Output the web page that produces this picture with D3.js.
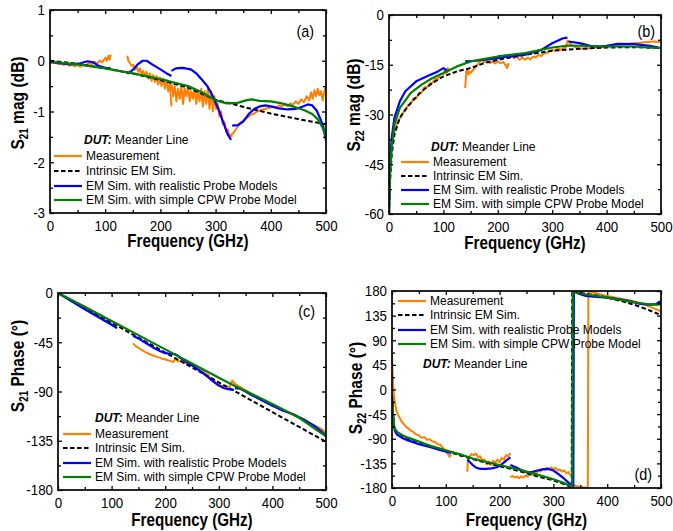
<!DOCTYPE html>
<html>
<head>
<meta charset="utf-8">
<script src="https://cdn.jsdelivr.net/npm/d3@7"></script>
<style>
  body { margin: 0; background: #fff; }
  svg { font-family: "Liberation Sans", Arial, sans-serif; }
</style>
</head>
<body>
<svg id="chart" width="673" height="531"></svg>
<script>
// ---- data (frequency in GHz, value) ----
var freqMajor = [0, 100, 200, 300, 400, 500];
var freqMinor = [50, 150, 250, 350, 450];

var legendLabels = ["Measurement", "Intrinsic EM Sim.", "EM Sim. with realistic Probe Models", "EM Sim. with simple CPW Probe Model"];

// (a) S21 magnitude, dB
var s21MagMeas = [
  [[0,-0.04],[5,-0.05],[10,-0.03],[15,-0.07],[20,-0.05],[25,-0.08],[30,-0.06],[35,-0.1],[40,-0.07],[45,-0.11],[50,-0.08],[55,-0.12],[60,-0.07],[65,-0.1],[70,-0.04],[75,-0.08],[80,-0.02],[85,-0.06],[90,0.0],[95,-0.03],[100,0.06],[103,0.0],[106,0.1],[108,0.02],[110,0.12]],
  [[140,0.1],[142,0.0],[145,-0.05],[148,-0.1],[151,-0.08],[154,-0.18],[157,-0.12],[160,-0.22],[163,-0.15],[166,-0.27],[169,-0.2],[172,-0.3],[175,-0.22],[178,-0.35],[181,-0.25],[184,-0.4],[187,-0.28],[190,-0.42],[193,-0.3],[196,-0.47],[199,-0.33],[202,-0.5],[205,-0.35],[208,-0.55],[211,-0.38],[214,-0.6],[217,-0.45],[220,-0.9]],
  [[220,-0.45],[223,-0.7],[226,-0.5],[229,-0.8],[232,-0.55],[235,-0.75],[238,-0.5],[241,-0.85],[244,-0.55],[247,-0.7],[250,-0.5],[253,-0.8],[256,-0.6],[259,-0.75],[262,-0.55],[265,-0.85],[268,-0.6],[271,-0.8],[274,-0.55],[277,-0.9],[280,-0.6],[283,-0.85],[286,-0.55],[289,-0.95],[292,-0.6],[295,-1.0],[298,-0.7],[301,-0.95],[304,-0.85],[307,-1.1],[310,-1.0],[313,-1.25],[316,-1.2],[319,-1.4],[322,-1.35],[325,-1.5],[328,-1.45],[330,-1.5]],
  [[330,-1.45],[335,-1.38],[340,-1.3],[345,-1.22],[350,-1.18],[355,-1.14],[360,-1.1],[365,-1.06],[370,-1.04],[375,-1.0],[380,-0.98],[385,-0.96],[390,-0.95],[395,-0.93],[400,-0.92],[405,-0.9],[410,-0.92],[415,-0.88],[420,-0.9],[425,-0.86],[430,-0.89],[435,-0.84],[440,-0.87],[445,-0.8],[450,-0.85],[455,-0.76],[460,-0.82],[465,-0.7],[470,-0.78],[473,-0.62],[476,-0.75],[479,-0.58],[482,-0.7],[485,-0.55],[488,-0.68],[491,-0.6],[494,-0.78],[497,-0.62],[500,-0.5]]
];
var s21MagIntrinsic = [
  [[0,0],[50,-0.06],[100,-0.15],[150,-0.25],[200,-0.38],[250,-0.53],[275,-0.65],[300,-0.77],[330,-0.85],[365,-0.95],[400,-1.04],[450,-1.15],[500,-1.25]]
];
var s21MagRealistic = [
  [[0,-0.02],[20,-0.05],[40,-0.07],[55,-0.05],[68,-0.01],[78,-0.03],[88,-0.1],[100,-0.14],[110,-0.15]],
  [[140,-0.26],[150,-0.18],[160,-0.06],[168,0.0],[175,0.0],[185,-0.07],[200,-0.17],[210,-0.24],[220,-0.3]],
  [[220,-0.2],[228,-0.15],[240,-0.14],[255,-0.17],[265,-0.25],[275,-0.37],[285,-0.5],[295,-0.7],[305,-0.95],[315,-1.25],[322,-1.45],[328,-1.56]],
  [[330,-1.28],[340,-1.27],[350,-1.2],[360,-1.05],[370,-0.95],[380,-0.9],[390,-0.88],[400,-0.9],[415,-0.94],[430,-0.96],[445,-0.95],[458,-0.9],[467,-0.86],[475,-0.88],[483,-0.98],[490,-1.15],[495,-1.3],[500,-1.57]]
];
var s21MagSimple = [
  [[0,-0.02],[50,-0.07],[100,-0.15],[150,-0.25],[200,-0.36],[250,-0.5],[275,-0.62],[300,-0.78],[320,-0.84],[340,-0.83],[355,-0.78],[365,-0.76],[380,-0.79],[400,-0.8],[420,-0.84],[440,-0.9],[460,-0.97],[475,-1.05],[485,-1.15],[493,-1.3],[500,-1.5]]
];

// (b) S22 magnitude, dB
var s22MagMeas = [
  [[0,-42],[1,-48],[2,-44],[4,-40],[6,-38],[8,-36.5],[10,-35],[13,-33.5],[16,-32],[20,-31.2],[25,-29.6],[30,-28.8],[35,-27.2],[40,-26.8],[45,-25.2],[50,-25],[55,-23.6],[60,-23.4],[65,-21.8],[70,-21.8],[75,-20.6],[80,-20.4],[85,-19.2],[90,-19.2],[95,-17.8],[100,-17.8],[103,-16.5],[106,-17.6],[108,-16],[110,-17]],
  [[140,-22],[141,-20],[142,-17],[144,-16.5],[146,-18],[148,-17],[150,-17.5],[155,-16.5],[160,-15.5],[165,-14.5],[170,-13.5],[175,-14.2],[180,-13.8],[185,-14.5],[190,-14],[195,-14.6],[200,-14],[205,-14.5],[210,-14.2],[214,-15],[217,-16],[220,-14.5]],
  [[220,-12],[225,-12.5],[230,-13],[235,-12.5],[240,-13.5],[245,-12.8],[250,-13.5],[255,-12.8],[260,-13.4],[265,-12.5],[270,-12.8],[275,-12],[280,-12.4],[285,-11.5],[290,-11.5],[295,-10.8],[300,-10.5],[305,-10.8],[310,-10],[315,-10.5],[320,-10],[325,-9.8],[328,-8],[330,-7.5]],
  [[330,-8],[335,-9],[340,-9.5],[345,-9.8],[350,-10],[360,-10.2],[370,-10],[380,-9.8],[390,-9.7],[400,-9.6],[410,-9.2],[420,-9],[430,-8.8],[440,-8.7],[450,-8.5],[460,-8.4],[470,-8.2],[480,-8.1],[490,-8],[495,-8.2],[500,-7.4]]
];
var s22MagIntrinsic = [
  [[0,-60],[2,-50],[5,-42],[10,-36],[20,-31],[30,-28.5],[40,-26.5],[60,-23],[80,-20.5],[100,-18.5],[125,-17],[150,-16],[175,-14.5],[200,-13.5],[250,-12],[300,-10.8],[350,-10.2],[400,-9.8],[450,-9.7],[500,-10]]
];
var s22MagRealistic = [
  [[0,-60],[2,-45],[5,-37],[10,-31],[20,-26],[30,-23],[50,-20],[70,-18.5],[90,-17],[100,-16],[104,-16.5],[108,-17]],
  [[140,-14],[160,-13.8],[180,-13.4],[200,-13],[220,-12.5]],
  [[220,-12.5],[250,-12],[280,-10.5],[300,-8.5],[320,-7],[328,-6.8]],
  [[330,-8],[350,-8.5],[370,-9.3],[385,-9.5],[400,-9.3],[420,-8.7],[450,-8.8],[480,-9.3],[500,-10]]
];
var s22MagSimple = [
  [[0,-60],[2,-48],[5,-40],[10,-33],[20,-28],[40,-23.5],[60,-21],[80,-19],[100,-17.5],[125,-15.5],[150,-14],[200,-12.5],[250,-11.5],[300,-9.8],[330,-9.2],[400,-9.5],[450,-9.5],[500,-10]]
];

// (c) S21 phase, degree
var s21PhMeas = [
  [[0,0],[20,-5.5],[40,-11.2],[60,-17],[80,-22.8],[100,-28.6],[110,-32.5]],
  [[140,-46],[145,-48.5],[150,-50],[155,-51.8],[160,-53],[165,-54.6],[170,-55.5],[175,-56.8],[180,-57.5],[185,-58.6],[190,-59],[195,-60.2],[200,-60.5],[205,-61.6],[210,-62],[215,-63],[218,-61],[220,-60]],
  [[220,-61],[225,-62.5],[230,-62],[235,-64],[240,-64],[245,-66],[250,-66],[255,-68],[260,-68],[265,-70.5],[270,-71],[275,-73.5],[280,-75],[285,-78],[290,-80],[295,-82.5],[300,-84],[305,-84.8],[310,-85],[315,-85.8],[320,-85.5],[325,-80],[328,-82],[330,-83]],
  [[330,-83],[340,-86],[350,-89],[360,-92],[370,-95],[380,-97.5],[390,-100],[400,-102],[410,-104.5],[420,-107],[430,-109],[440,-111.5],[450,-114],[460,-116],[470,-119],[480,-121.5],[490,-124],[500,-127]]
];
var s21PhIntrinsic = [
  [[0,0],[100,-27.2],[200,-54.4],[300,-81.6],[400,-108.8],[500,-136]]
];
var s21PhRealistic = [
  [[0,0],[50,-15],[100,-29],[110,-32]],
  [[140,-39],[150,-41.5],[160,-44.5],[170,-47.5],[180,-50.5],[190,-53],[200,-55],[210,-55.5],[220,-56]],
  [[220,-56],[230,-60],[240,-63],[250,-66],[260,-69.5],[270,-73],[280,-77],[290,-81],[300,-84.5],[310,-87],[320,-88],[328,-88.5]],
  [[330,-87],[340,-87.5],[350,-90],[360,-93],[380,-98],[400,-103],[420,-107.5],[440,-111],[460,-116],[480,-122],[490,-126],[500,-130]]
];
var s21PhSimple = [
  [[0,0],[50,-12.5],[100,-25.5],[150,-38.5],[200,-51.5],[250,-64.5],[300,-77.5],[330,-85],[350,-89.5],[400,-101.5],[450,-114],[500,-131]]
];

// (d) S22 phase, degree
var s22PhMeas = [
  [[0,65],[1,35],[2,12],[3,-5],[5,-22],[8,-38],[12,-48],[16,-55],[20,-61],[25,-67],[30,-71],[35,-75],[40,-78],[45,-82],[50,-84],[55,-88],[60,-87],[65,-92],[70,-91],[75,-95],[80,-96],[85,-100],[90,-101],[95,-107],[100,-113],[104,-118],[107,-123],[110,-118]],
  [[140,-150],[141,-130],[144,-122],[148,-118],[152,-120],[156,-117],[160,-124],[164,-122],[168,-130],[172,-128],[176,-137],[180,-132],[184,-138],[188,-130],[192,-134],[196,-128],[200,-133],[204,-125],[208,-128],[212,-120],[216,-122],[220,-116]],
  [[220,-160],[224,-158],[228,-161],[232,-159],[236,-162],[240,-159],[244,-161],[248,-157],[252,-159],[256,-154],[260,-156],[264,-151],[268,-153],[272,-148],[276,-150],[280,-145],[284,-147],[288,-143],[292,-146],[296,-142],[300,-146],[304,-143],[308,-148],[312,-146],[316,-150],[320,-148],[324,-153],[328,-151],[331,-156]],
  [[333,-172],[340,-176],[350,-178],[358,-179],[364,-180],[365,180],[370,178],[380,176],[390,173],[400,171],[410,169],[420,167],[430,165],[440,163],[450,161],[460,158],[470,155],[480,151],[490,147],[500,143]]
];
var s22PhIntrinsic = [
  [[0,-10],[2,-45],[4,-68],[6,-74],[10,-80],[20,-86],[30,-90],[50,-97],[75,-105],[100,-112],[125,-120],[150,-127],[175,-134],[200,-140],[225,-146],[250,-153],[275,-160],[300,-166],[320,-173],[334,-179],[335,180],[340,178],[360,175],[380,172],[400,168],[425,162],[450,155],[475,146],[500,136]]
];
var s22PhRealistic = [
  [[0,-15],[2,-50],[4,-70],[6,-77],[10,-83],[20,-89],[30,-93],[50,-100],[70,-105],[90,-111],[110,-116]],
  [[140,-128],[145,-133],[150,-138],[155,-142],[160,-144],[165,-145],[175,-145],[185,-144],[195,-142],[205,-136],[212,-130],[220,-124]],
  [[220,-138],[230,-142],[240,-147],[250,-151],[260,-151],[270,-148],[280,-146],[290,-145],[300,-148],[310,-155],[320,-163],[330,-172],[337,-180],[338,180],[345,176],[360,171],[380,169],[400,168],[420,165],[440,162],[460,157],[475,155],[490,156],[500,162]]
];
var s22PhSimple = [
  [[0,-10],[2,-45],[4,-68],[6,-73],[10,-78],[20,-84],[30,-88],[50,-95],[75,-104],[100,-111],[125,-118],[150,-126],[175,-132],[200,-138],[225,-144],[250,-150],[275,-157],[300,-164],[320,-171],[335,-178],[336,180],[340,178],[360,174],[380,171],[400,168],[430,163],[460,158],[480,155],[495,155],[500,157]]
];

// ---- styles ----
var styles = [
  {color: "#ff8000", width: 2, dash: null},
  {color: "#000000", width: 2, dash: "4.5,2.5"},
  {color: "#0000ff", width: 2.2, dash: null},
  {color: "#008000", width: 2.2, dash: null}
];

var svg = d3.select("#chart");

var panels = [
  {id: "a", left: 50, right: 326, top: 10, bottom: 213, yDomain: [-3, 1], yMajor: [-3,-2,-1,0,1], yStep: 0.5,
   series: [s21MagMeas, s21MagIntrinsic, s21MagRealistic, s21MagSimple],
   title: ["S", "21", " mag (dB)"], titleX: 24, titleY: 103, xTitleY: 247,
   tag: "(a)", tagX: 314, tagY: 37,
   dutX: 84, dutY: 144, legX: 54, legY: [160, 175, 190, 204]},
  {id: "b", left: 389, right: 661, top: 15, bottom: 214, yDomain: [-60, 0], yMajor: [-60,-45,-30,-15,0], yStep: 7.5,
   series: [s22MagMeas, s22MagIntrinsic, s22MagRealistic, s22MagSimple],
   title: ["S", "22", " mag (dB)"], titleX: 360, titleY: 105, xTitleY: 249,
   tag: "(b)", tagX: 655, tagY: 37,
   dutX: 431, dutY: 151, legX: 401, legY: [166, 180, 194, 208]},
  {id: "c", left: 58, right: 326, top: 293, bottom: 490, yDomain: [-180, 0], yMajor: [-180,-135,-90,-45,0], yStep: 22.5,
   series: [s21PhMeas, s21PhIntrinsic, s21PhRealistic, s21PhSimple],
   title: ["S", "21", " Phase (\u00b0)"], titleX: 24, titleY: 366, xTitleY: 526,
   tag: "(c)", tagX: 315, tagY: 317,
   dutX: 95, dutY: 422, legX: 63, legY: [438, 452, 467, 481]},
  {id: "d", left: 392, right: 661, top: 291, bottom: 488, yDomain: [-180, 180], yMajor: [-180,-135,-90,-45,0,45,90,135,180], yStep: 22.5,
   series: [s22PhMeas, s22PhIntrinsic, s22PhRealistic, s22PhSimple],
   title: ["S", "22", " Phase (\u00b0)"], titleX: 362, titleY: 388, xTitleY: 526,
   tag: "(d)", tagX: 652, tagY: 480,
   dutX: 423, dutY: 368, legX: 398, legY: [305, 319, 334, 348]}
];

var condense = 0.86;

panels.forEach(function(p) {
  var x = d3.scaleLinear().domain([0, 500]).range([p.left, p.right]);
  var y = d3.scaleLinear().domain(p.yDomain).range([p.bottom, p.top]);

  var yMinor = d3.range(p.yDomain[0], p.yDomain[1] + 1e-9, p.yStep).filter(function(v) {
    return p.yMajor.indexOf(v) < 0;
  });

  var g = svg.append("g").attr("class", "panel-" + p.id);

  g.append("clipPath").attr("id", "clip-" + p.id)
    .append("rect")
    .attr("x", p.left).attr("y", p.top)
    .attr("width", p.right - p.left).attr("height", p.bottom - p.top);

  var line = d3.line()
    .x(function(d) { return x(d[0]); })
    .y(function(d) { return y(d[1]); });

  var plot = g.append("g").attr("clip-path", "url(#clip-" + p.id + ")");
  p.series.forEach(function(segs, i) {
    var st = styles[i];
    plot.selectAll(null)
      .data(segs)
      .enter().append("path")
      .attr("d", line)
      .attr("fill", "none")
      .attr("stroke", st.color)
      .attr("stroke-width", st.width)
      .attr("stroke-linejoin", "round")
      .attr("stroke-dasharray", st.dash);
  });

  // axes: ticks on all four sides, pointing inside
  function fmt(d) { return String(d); }

  var bottom = g.append("g").attr("transform", "translate(0," + p.bottom + ")")
    .call(d3.axisBottom(x).tickValues(freqMajor).tickFormat(fmt).tickSizeInner(-4).tickSizeOuter(0).tickPadding(7));
  g.append("g").attr("transform", "translate(0," + p.bottom + ")")
    .call(d3.axisBottom(x).tickValues(freqMinor).tickFormat("").tickSizeInner(-3).tickSizeOuter(0));
  g.append("g").attr("transform", "translate(0," + p.top + ")")
    .call(d3.axisTop(x).tickValues(freqMajor).tickFormat("").tickSizeInner(-4).tickSizeOuter(0));
  g.append("g").attr("transform", "translate(0," + p.top + ")")
    .call(d3.axisTop(x).tickValues(freqMinor).tickFormat("").tickSizeInner(-3).tickSizeOuter(0));

  var left = g.append("g").attr("transform", "translate(" + p.left + ",0)")
    .call(d3.axisLeft(y).tickValues(p.yMajor).tickFormat(fmt).tickSizeInner(-4).tickSizeOuter(0).tickPadding(5));
  g.append("g").attr("transform", "translate(" + p.left + ",0)")
    .call(d3.axisLeft(y).tickValues(yMinor).tickFormat("").tickSizeInner(-3).tickSizeOuter(0));
  g.append("g").attr("transform", "translate(" + p.right + ",0)")
    .call(d3.axisRight(y).tickValues(p.yMajor).tickFormat("").tickSizeInner(-4).tickSizeOuter(0));
  g.append("g").attr("transform", "translate(" + p.right + ",0)")
    .call(d3.axisRight(y).tickValues(yMinor).tickFormat("").tickSizeInner(-3).tickSizeOuter(0));

  g.selectAll(".domain").remove();
  g.selectAll(".tick line").attr("stroke", "#000").attr("stroke-width", 1.3);

  bottom.selectAll(".tick text")
    .attr("font-size", 15.5).attr("font-family", "Liberation Sans, Arial, sans-serif").attr("fill", "#000")
    .attr("transform", "scale(" + condense + ",1)");
  left.selectAll(".tick text")
    .attr("font-size", 15.5).attr("font-family", "Liberation Sans, Arial, sans-serif").attr("fill", "#000")
    .attr("x", -5 / condense)
    .attr("transform", "scale(" + condense + ",1)");

  g.append("rect")
    .attr("x", p.left).attr("y", p.top)
    .attr("width", p.right - p.left).attr("height", p.bottom - p.top)
    .attr("fill", "none").attr("stroke", "#000").attr("stroke-width", 1.7);

  // axis titles
  g.append("text")
    .attr("transform", "translate(" + ((p.left + p.right) / 2) + "," + p.xTitleY + ") scale(0.82,1)")
    .attr("text-anchor", "middle")
    .attr("font-size", 18.5).attr("font-weight", "bold")
    .text("Frequency (GHz)");

  var yt = g.append("text")
    .attr("transform", "translate(" + p.titleX + "," + p.titleY + ") rotate(-90) scale(0.82,1)")
    .attr("text-anchor", "middle")
    .attr("font-size", 19).attr("font-weight", "bold");
  yt.append("tspan").text(p.title[0]);
  yt.append("tspan").attr("font-size", 12).attr("dy", 4).text(p.title[1]);
  yt.append("tspan").attr("dy", -4).text(p.title[2]);

  // panel tag
  g.append("text")
    .attr("transform", "translate(" + p.tagX + "," + p.tagY + ") scale(0.9,1)")
    .attr("text-anchor", "end")
    .attr("font-size", 16)
    .text(p.tag);

  // legend
  var dut = g.append("text").attr("x", p.dutX).attr("y", p.dutY).attr("font-size", 12);
  dut.append("tspan").attr("font-weight", "bold").attr("font-style", "italic").text("DUT:");
  dut.append("tspan").text(" Meander Line");

  legendLabels.forEach(function(lab, i) {
    var st = styles[i];
    var ly = p.legY[i];
    g.append("line")
      .attr("x1", p.legX).attr("x2", p.legX + 28)
      .attr("y1", ly - 4).attr("y2", ly - 4)
      .attr("stroke", st.color).attr("stroke-width", 2.2)
      .attr("stroke-dasharray", st.dash);
    g.append("text")
      .attr("x", p.legX + 32).attr("y", ly)
      .attr("font-size", 12)
      .text(lab);
  });
});
</script>
</body>
</html>
